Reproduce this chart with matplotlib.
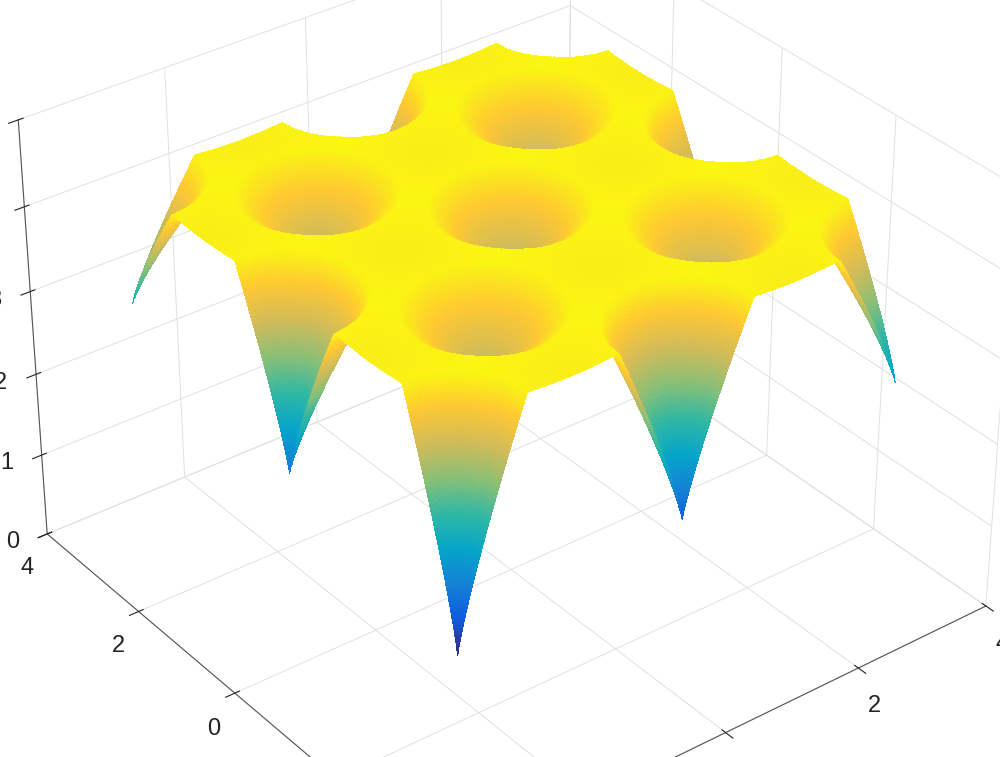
import numpy as np
import matplotlib.pyplot as plt
from matplotlib.colors import LinearSegmentedColormap

plt.rcParams["font.family"] = ["Liberation Sans", "DejaVu Sans"]
plt.rcParams["axes.unicode_minus"] = False

# dip centres (theta1, theta2) and minimum value at each dip
dip_t1 = [-np.pi, -np.pi, -np.pi, 0, 0, 0, np.pi, np.pi, np.pi,
          -np.pi / 2, -np.pi / 2, np.pi / 2, np.pi / 2]
dip_t2 = [-np.pi, 0, np.pi, -np.pi, 0, np.pi, -np.pi, 0, np.pi,
          -np.pi / 2, np.pi / 2, -np.pi / 2, np.pi / 2]
dip_min = [1.7, 2.1, 2.6, 2.3, 3.4, 2.6, 2.9, 2.6, 3.0,
           3.5, 3.5, 3.5, 3.5]
plateau = 4.4
dip_radius = 0.95

t = np.linspace(-np.pi, np.pi, 301)
T2, T1 = np.meshgrid(t, t)
Z = np.full_like(T1, plateau)
for a, b, m in zip(dip_t1, dip_t2, dip_min):
    r = np.hypot(T1 - a, T2 - b)
    Z = np.minimum(Z, m + (plateau - m) * (r / dip_radius) ** 0.85)
Z += 0.04 * np.cos(2 * T1) * np.cos(2 * T2)

parula = LinearSegmentedColormap.from_list("parula", [
    "#352a87", "#0f5cdd", "#1481d6", "#06a4ca", "#2eb7a4",
    "#87bf77", "#d1bb59", "#fec832", "#f9fb0e"])

fig = plt.figure(figsize=(10, 7.57), dpi=100)
ax = fig.add_axes([0.0, -0.04, 1.0, 1.08], projection="3d")
ax.plot_surface(T2, T1, Z, cmap=parula, vmin=1.8, vmax=4.45,
                rstride=1, cstride=1, linewidth=0, antialiased=False)
ax.view_init(elev=33, azim=-127.5)
ax.set_xlim(-4, 4)
ax.set_ylim(-4, 4)
ax.set_zlim(0, 5)
ax.set_xticks([-4, -2, 0, 2, 4])
ax.set_yticks([-4, -2, 0, 2, 4])
ax.set_zticks([0, 1, 2, 3, 4, 5])
for axis in (ax.xaxis, ax.yaxis, ax.zaxis):
    axis.set_pane_color((1, 1, 1, 1))
    axis._axinfo["grid"]["color"] = (0.88, 0.88, 0.88, 1)
    axis._axinfo["grid"]["linewidth"] = 0.7
    axis.line.set_color("#555555")
ax.tick_params(labelsize=17, colors="#222222")
ax.set_xlabel(r"$\theta_2$", fontsize=18, labelpad=16)
ax.set_ylabel(r"$\theta_1$", fontsize=18, labelpad=16)
ax.set_zlabel(r"$M_{\max}(U_{\theta_1,\theta_2})$", fontsize=15, labelpad=12)
ax.set_box_aspect((1, 1, 0.72), zoom=1.3)
fig.savefig("out.png")
